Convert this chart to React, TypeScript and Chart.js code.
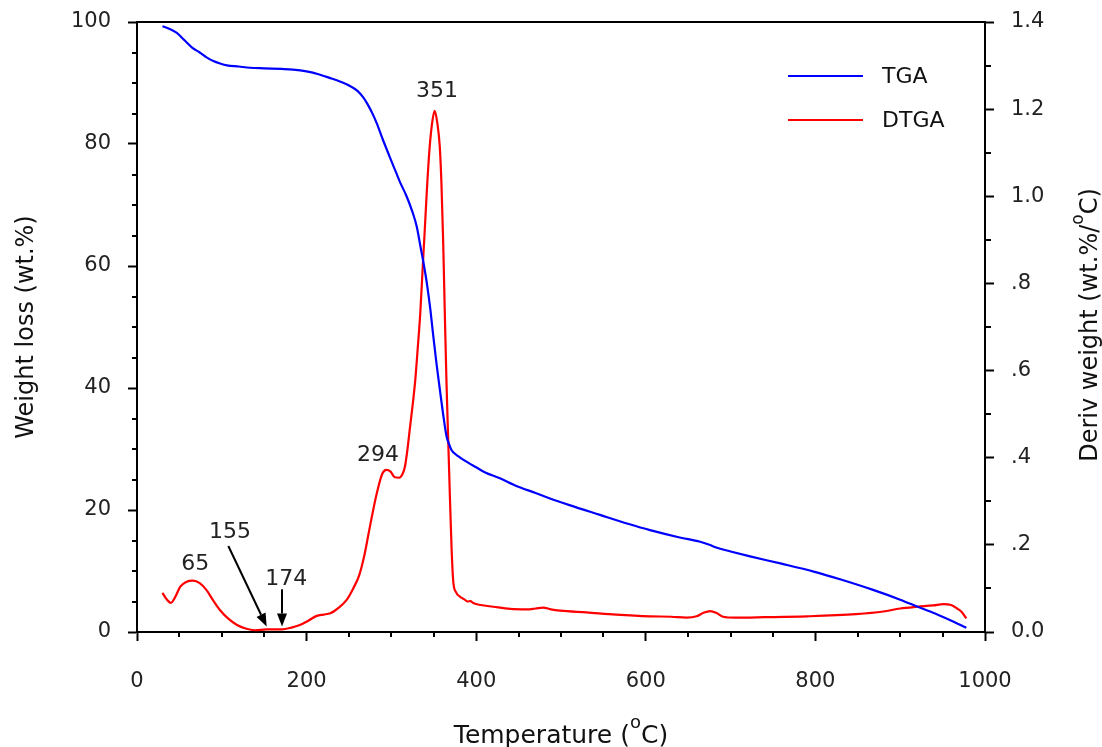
import React, { useEffect, useRef } from "react";
import { Chart, registerables } from "chart.js";

Chart.register(...registerables);

// TGA curve: temperature (°C) and remaining weight (wt.%)
const tgaTemp = [
  30, 38, 47, 56, 65, 74, 82, 90, 98, 106, 120, 133, 150, 170, 184, 200, 215, 228, 240, 250,
  260, 267, 272, 278, 283, 290, 298, 305, 310, 318, 325, 330, 334, 338, 342, 346, 349, 353,
  357, 361, 365, 368, 371, 376, 381, 390, 400, 410, 428, 448, 470, 487, 510, 546, 580, 605,
  640, 664, 675, 684, 700, 723, 760, 798, 830, 868, 900, 923, 945, 963, 978,
];
const tgaWeight = [
  99.3, 98.9, 98.2, 97.0, 95.8, 95.0, 94.2, 93.6, 93.2, 92.9, 92.7, 92.5, 92.4, 92.3, 92.2,
  91.9, 91.4, 90.8, 90.2, 89.6, 88.7, 87.6, 86.5, 84.9, 83.3, 80.7, 77.9, 75.5, 73.8, 71.4,
  68.8, 66.4, 63.4, 60.4, 57.0, 52.8, 49.0, 44.2, 39.9, 35.7, 32.1, 30.8, 29.8, 29.1, 28.6,
  27.8, 27.0, 26.2, 25.2, 23.9, 22.8, 21.9, 20.8, 19.2, 17.7, 16.7, 15.5, 14.8, 14.3, 13.8,
  13.2, 12.4, 11.2, 9.9, 8.6, 6.9, 5.3, 4.0, 2.8, 1.7, 0.7,
];

// DTGA curve: temperature (°C) and derivative weight (wt.%/°C)
const dtgaTemp = [
  30, 35, 40, 45, 51, 58, 66, 74, 82, 90, 98, 108, 118, 128, 139, 153, 162, 171, 182, 192,
  202, 212, 220, 228, 238, 247, 255, 262, 268, 273, 278, 283, 289, 294, 299, 304, 309, 313,
  316, 319, 322, 325, 328, 331, 334, 337, 339, 342, 345, 348, 351, 354, 357, 359, 361, 363,
  365, 367, 369, 371, 373, 376, 381, 386, 390, 393, 397, 405, 420, 440, 460, 470, 479, 488,
  499, 530, 565, 605, 630, 648, 660, 668, 676, 683, 691, 705, 740, 790, 848, 880, 900, 920,
  939, 951, 960, 967, 973, 978,
];
const dtgaDeriv = [
  0.09, 0.075, 0.067, 0.08, 0.104, 0.115, 0.118, 0.112, 0.096, 0.072, 0.05, 0.03, 0.016,
  0.008, 0.004, 0.006, 0.006, 0.006, 0.01, 0.016, 0.026, 0.037, 0.04, 0.043, 0.056, 0.073,
  0.1, 0.13, 0.175, 0.225, 0.275, 0.32, 0.362, 0.372, 0.368, 0.355, 0.354, 0.362, 0.38,
  0.42, 0.471, 0.52, 0.575, 0.65, 0.73, 0.84, 0.91, 1.02, 1.11, 1.168, 1.196, 1.17, 1.115,
  1.03, 0.9, 0.73, 0.57, 0.44, 0.31, 0.19, 0.115, 0.092, 0.081, 0.075, 0.07, 0.071, 0.066,
  0.062, 0.058, 0.053, 0.052, 0.054, 0.056, 0.052, 0.049, 0.045, 0.04, 0.036, 0.035, 0.033,
  0.036, 0.044, 0.048, 0.044, 0.035, 0.033, 0.034, 0.036, 0.041, 0.047, 0.054, 0.058, 0.061,
  0.064, 0.062, 0.054, 0.045, 0.031,
];

// Peak temperatures marked on the DTGA curve
const peakLabels = ["65", "155", "174", "294", "351"];
const seriesNames = ["TGA", "DTGA"];

const FONT = '"DejaVu Sans", sans-serif';
const TEXT = "#222";

type Part = { text: string; sup?: boolean };

function drawRich(ctx: CanvasRenderingContext2D, parts: Part[], size: number) {
  const supSize = Math.round(size * 0.72);
  const rise = Math.round(size * 0.6);
  const widths = parts.map((p) => {
    ctx.font = `${p.sup ? supSize : size}px ${FONT}`;
    return ctx.measureText(p.text).width;
  });
  const total = widths.reduce((s, w) => s + w, 0);
  let x = -total / 2;
  ctx.textAlign = "left";
  ctx.textBaseline = "alphabetic";
  parts.forEach((p, i) => {
    ctx.font = `${p.sup ? supSize : size}px ${FONT}`;
    ctx.fillText(p.text, x, p.sup ? -rise : 0);
    x += widths[i];
  });
}

function arrow(ctx: CanvasRenderingContext2D, x0: number, y0: number, x1: number, y1: number) {
  const ang = Math.atan2(y1 - y0, x1 - x0);
  const head = 13;
  const half = 5;
  const bx = x1 - head * Math.cos(ang);
  const by = y1 - head * Math.sin(ang);
  ctx.beginPath();
  ctx.moveTo(x0, y0);
  ctx.lineTo(bx, by);
  ctx.stroke();
  ctx.beginPath();
  ctx.moveTo(x1, y1);
  ctx.lineTo(bx + half * Math.sin(ang), by - half * Math.cos(ang));
  ctx.lineTo(bx - half * Math.sin(ang), by + half * Math.cos(ang));
  ctx.closePath();
  ctx.fill();
}

const decorPlugin = {
  id: "decor",
  afterDraw(chart: any) {
    const { ctx, chartArea: a, scales } = chart;
    const sx = scales.x;
    const sy = scales.y;
    const sr = scales.y1;
    ctx.save();
    ctx.strokeStyle = "#000";
    ctx.fillStyle = "#000";
    ctx.lineWidth = 2;

    // top frame line
    ctx.beginPath();
    ctx.moveTo(a.left, a.top);
    ctx.lineTo(a.right, a.top);
    ctx.stroke();

    // minor ticks
    ctx.beginPath();
    for (let v = 50; v < 1000; v += 50) {
      if (v % 200 === 0) continue;
      const px = Math.round(sx.getPixelForValue(v));
      ctx.moveTo(px, a.bottom);
      ctx.lineTo(px, a.bottom + 5);
    }
    for (let v = 5; v < 100; v += 5) {
      if (v % 20 === 0) continue;
      const py = Math.round(sy.getPixelForValue(v));
      ctx.moveTo(a.left - 5, py);
      ctx.lineTo(a.left, py);
    }
    for (let v = 0.1; v < 1.4; v += 0.2) {
      const py = Math.round(sr.getPixelForValue(v));
      ctx.moveTo(a.right, py);
      ctx.lineTo(a.right + 6, py);
    }
    ctx.stroke();

    // axis titles
    ctx.fillStyle = "#111";
    ctx.save();
    ctx.translate((a.left + a.right) / 2, 743);
    drawRich(ctx, [{ text: "Temperature (" }, { text: "o", sup: true }, { text: "C)" }], 25);
    ctx.restore();

    ctx.save();
    ctx.translate(33, (a.top + a.bottom) / 2);
    ctx.rotate(-Math.PI / 2);
    drawRich(ctx, [{ text: "Weight loss (wt.%)" }], 24);
    ctx.restore();

    ctx.save();
    ctx.translate(1097, (a.top + a.bottom) / 2 - 2);
    ctx.rotate(-Math.PI / 2);
    drawRich(ctx, [{ text: "Deriv weight (wt.%/" }, { text: "o", sup: true }, { text: "C)" }], 24);
    ctx.restore();

    // legend
    const legendColors = ["#0000ff", "#ff0000"];
    seriesNames.forEach((name, i) => {
      const y = 76 + i * 44;
      ctx.strokeStyle = legendColors[i];
      ctx.beginPath();
      ctx.moveTo(788, y);
      ctx.lineTo(863, y);
      ctx.stroke();
      ctx.fillStyle = "#111";
      ctx.font = `22px ${FONT}`;
      ctx.textAlign = "left";
      ctx.textBaseline = "middle";
      ctx.fillText(name, 882, y + 1);
    });

    // peak annotations (placed in temperature / weight-axis coordinates)
    const labelPos: [number, number][] = [
      [68.8, 11.1],
      [109.7, 16.4],
      [175.9, 8.66],
      [284.2, 28.9],
      [353.8, 88.7],
    ];
    ctx.fillStyle = TEXT;
    ctx.font = `22px ${FONT}`;
    ctx.textAlign = "center";
    ctx.textBaseline = "middle";
    peakLabels.forEach((t, i) => {
      const [tx, ty] = labelPos[i];
      ctx.fillText(t, sx.getPixelForValue(tx), sy.getPixelForValue(ty));
    });

    ctx.strokeStyle = "#000";
    ctx.fillStyle = "#000";
    ctx.lineWidth = 2;
    arrow(ctx, sx.getPixelForValue(107.7), sy.getPixelForValue(14.1), sx.getPixelForValue(152.9), sy.getPixelForValue(0.9));
    arrow(ctx, sx.getPixelForValue(171), sy.getPixelForValue(7.0), sx.getPixelForValue(171), sy.getPixelForValue(0.9));

    ctx.restore();
  },
};

export default function App() {
  const canvasRef = useRef<HTMLCanvasElement | null>(null);

  useEffect(() => {
    document.body.style.margin = "0";
    document.body.style.background = "#fff";
    const canvas = canvasRef.current;
    if (!canvas) return;

    const tgaPoints = tgaTemp.map((t, i) => ({ x: t, y: tgaWeight[i] }));
    const dtgaPoints = dtgaTemp.map((t, i) => ({ x: t, y: dtgaDeriv[i] }));

    const tickFont = { family: FONT, size: 21 };
    const axisCommon = {
      grid: {
        display: true,
        drawOnChartArea: false,
        drawTicks: true,
        tickLength: 9,
        tickWidth: 2,
        tickColor: "#000",
      },
      border: { display: true, color: "#000", width: 2 },
    };

    const chart = new Chart(canvas, {
      type: "line",
      data: {
        datasets: [
          {
            label: seriesNames[0],
            data: tgaPoints,
            yAxisID: "y",
            borderColor: "#0000ff",
            borderWidth: 2.2,
            pointRadius: 0,
            cubicInterpolationMode: "monotone",
            fill: false,
          },
          {
            label: seriesNames[1],
            data: dtgaPoints,
            yAxisID: "y1",
            borderColor: "#ff0000",
            borderWidth: 2.2,
            pointRadius: 0,
            cubicInterpolationMode: "monotone",
            fill: false,
          },
        ],
      },
      options: {
        responsive: false,
        animation: false,
        layout: { padding: { top: 22, left: 0, right: 0, bottom: 0 } },
        plugins: { legend: { display: false }, tooltip: { enabled: false } },
        scales: {
          x: {
            type: "linear",
            min: 0,
            max: 1000,
            ...axisCommon,
            ticks: {
              stepSize: 200,
              color: TEXT,
              font: tickFont,
              padding: 28,
              maxRotation: 0,
              callback: (v: any) => String(v),
            },
            afterFit: (s: any) => {
              s.height = 115;
              s.paddingLeft = 0;
              s.paddingRight = 0;
            },
          },
          y: {
            type: "linear",
            position: "left",
            min: 0,
            max: 100,
            ...axisCommon,
            ticks: { stepSize: 20, color: TEXT, font: tickFont, padding: 17 },
            afterFit: (s: any) => {
              s.width = 137;
              s.paddingTop = 0;
              s.paddingBottom = 0;
            },
          },
          y1: {
            type: "linear",
            position: "right",
            min: 0,
            max: 1.4,
            ...axisCommon,
            ticks: {
              stepSize: 0.2,
              color: TEXT,
              font: tickFont,
              padding: 17,
              callback: (v: any) => {
                const n = Number(v);
                if (Math.abs(n) < 1e-9) return "0.0";
                if (n < 0.99) return "." + Math.round(n * 10);
                return n.toFixed(1);
              },
            },
            afterFit: (s: any) => {
              s.width = 117;
              s.paddingTop = 0;
              s.paddingBottom = 0;
            },
          },
        },
      },
      plugins: [decorPlugin],
    } as any);

    return () => chart.destroy();
  }, []);

  return (
    <div style={{ width: 1102, height: 747 }}>
      <canvas ref={canvasRef} width={1102} height={747} style={{ display: "block" }} />
    </div>
  );
}
